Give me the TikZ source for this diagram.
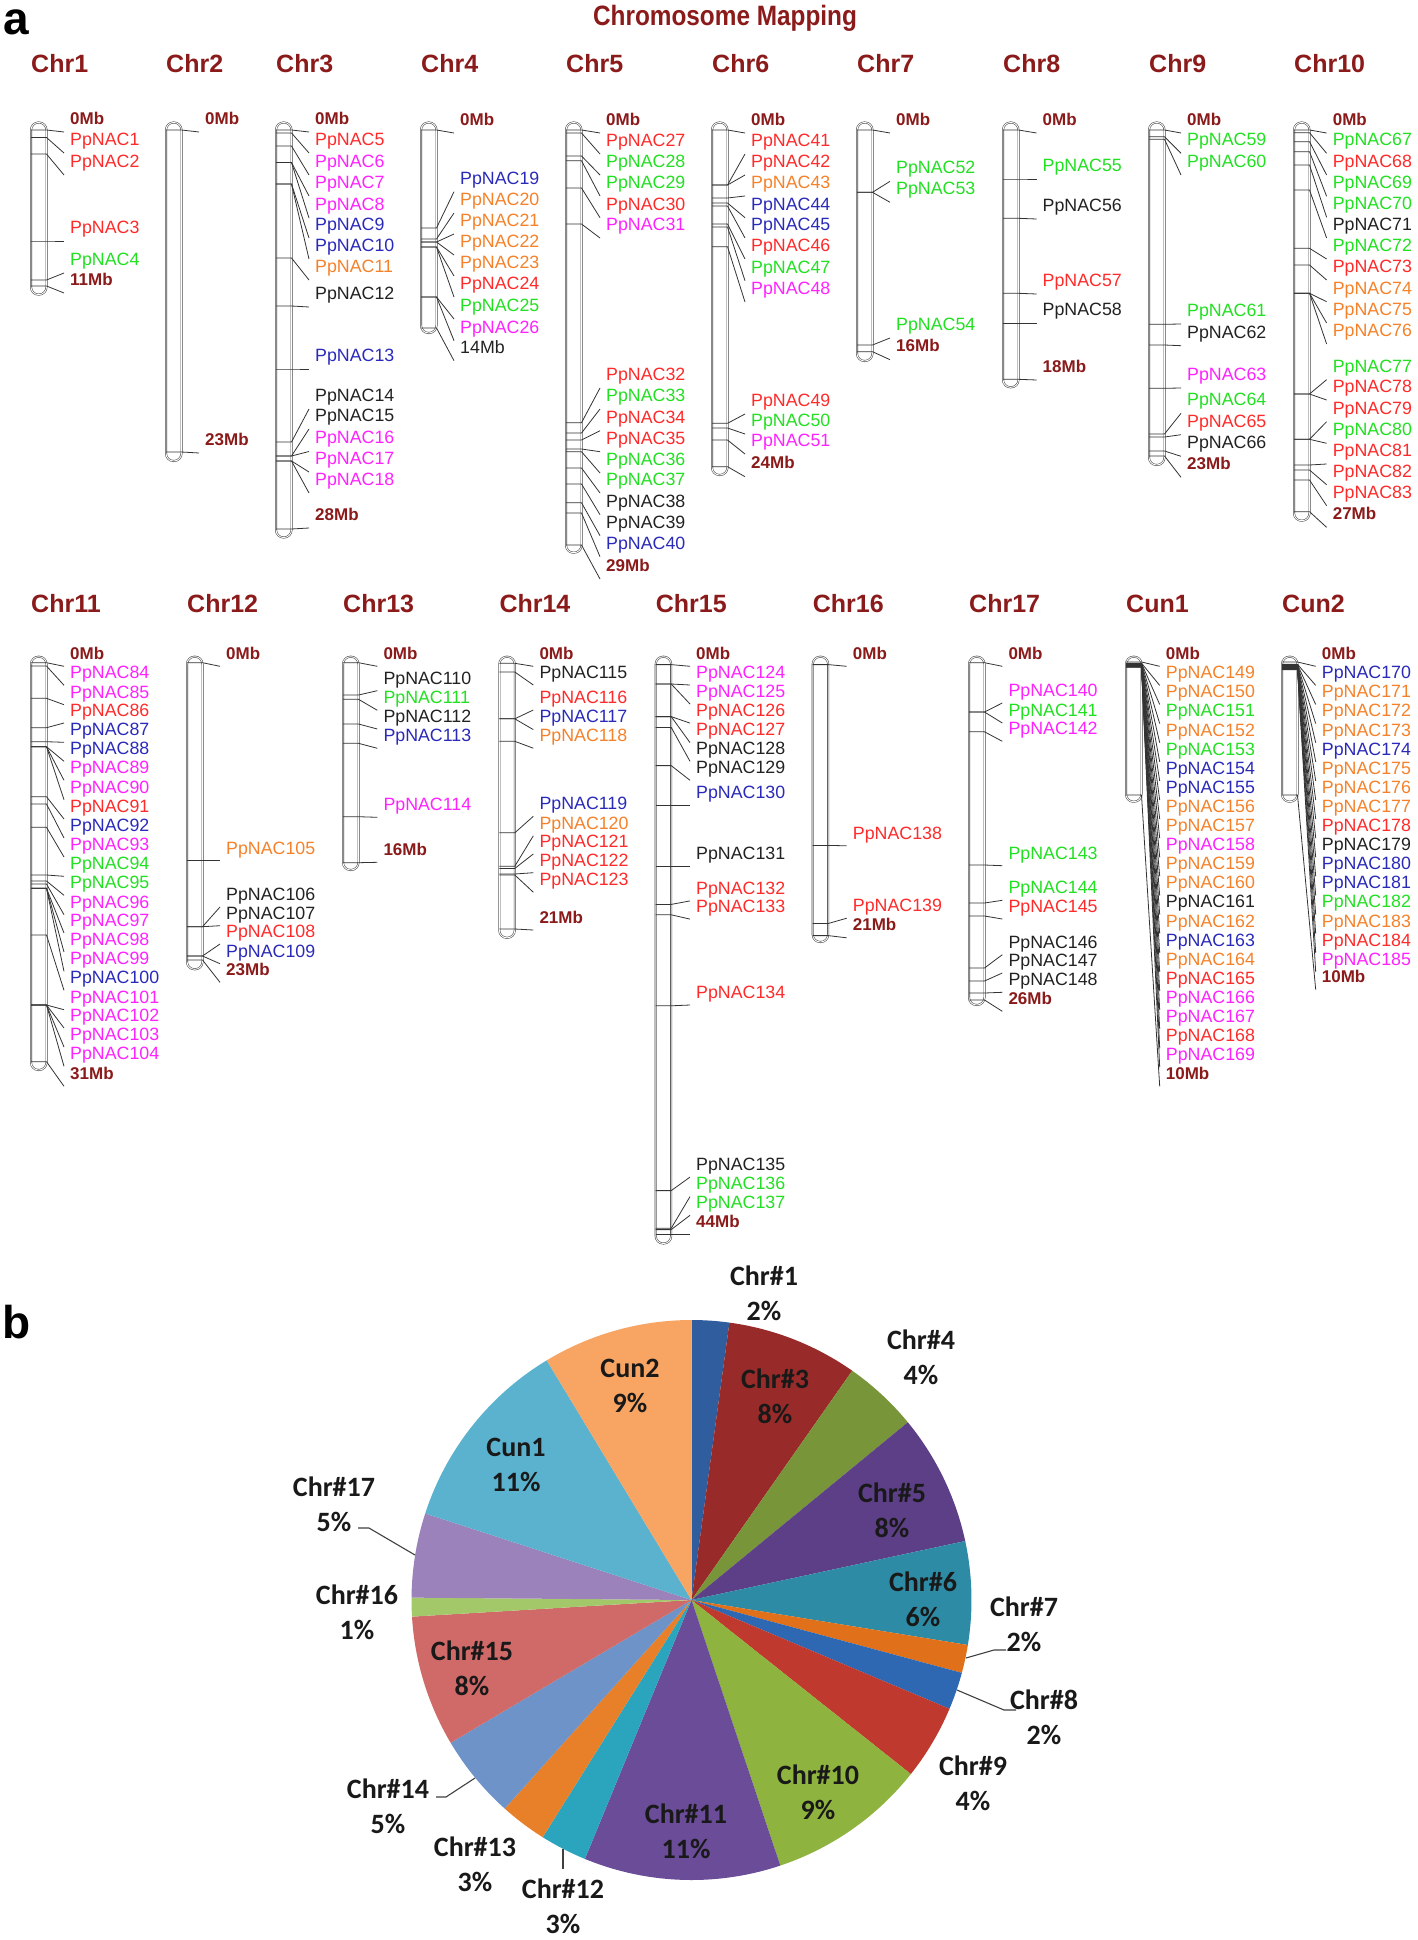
\documentclass[tikz,border=0pt]{standalone}
\usepackage{fontspec}
\setmainfont{Liberation Sans}
\newfontfamily\calib{Carlito}
\usetikzlibrary{calc}
\definecolor{darkred}{HTML}{8B1A1A}
\definecolor{nred}{HTML}{FF2A2A}
\definecolor{nmag}{HTML}{FF22FF}
\definecolor{nblue}{HTML}{2A2ABA}
\definecolor{norg}{HTML}{F5822A}
\definecolor{ngrn}{HTML}{22E022}
\definecolor{nblk}{HTML}{222222}
\definecolor{barline}{HTML}{4A4A4A}
% pie slice colours
\definecolor{pc1}{HTML}{2F5D9E}
\definecolor{pc3}{HTML}{982B29}
\definecolor{pc4}{HTML}{78953A}
\definecolor{pc5}{HTML}{5C3F87}
\definecolor{pc6}{HTML}{2D8BA5}
\definecolor{pc7}{HTML}{E0701A}
\definecolor{pc8}{HTML}{2E68B2}
\definecolor{pc9}{HTML}{C0392F}
\definecolor{pc10}{HTML}{8FB33F}
\definecolor{pc11}{HTML}{6A4C99}
\definecolor{pc12}{HTML}{2BA5BE}
\definecolor{pc13}{HTML}{E8802A}
\definecolor{pc14}{HTML}{6E93C8}
\definecolor{pc15}{HTML}{D06A68}
\definecolor{pc16}{HTML}{A3C86A}
\definecolor{pc17}{HTML}{9C82BA}
\definecolor{pcu1}{HTML}{5AB2CF}
\definecolor{pcu2}{HTML}{F8A462}
\tikzset{
  chrbar/.style={draw=barline, double=white, double distance=0.9pt,
                 line width=0.55pt, rounded corners=7.5pt},
  tick/.style={draw=black!80, line width=0.8pt},
  gene/.style={anchor=west, inner sep=0pt, font=\fontsize{17.8}{20}\selectfont,
               text height=12.7pt, text depth=0pt},
  mb/.style={gene, font=\bfseries\fontsize{17}{20}\selectfont, text=darkred,
             text height=12.2pt},
  chrname/.style={anchor=west, inner sep=0pt, font=\bfseries\fontsize{25}{28}\selectfont,
                  text=darkred, text height=18pt, text depth=0pt},
  title/.style={inner sep=0pt, font=\bfseries\fontsize{28}{30}\selectfont, text=darkred},
  panel/.style={inner sep=0pt, font=\bfseries\fontsize{46}{50}\selectfont},
  pielbl/.style={inner sep=0pt, align=center, text=black!90,
                 font=\calib\bfseries\fontsize{28}{34.7}\selectfont},
  leader/.style={draw=black!75, line width=1.1pt}
}
\def\bw{15.5}
% bar of one chromosome: id, text, name y, bar x, top, bottom, label x
\newcommand{\chrom}[7]{%
  \def\bl{#4}\def\lx{#7}%
  \node[chrname] (#1) at (#4,#3) {#2};%
  \draw[chrbar] (#4,#5) rectangle (#4+\bw,#6);%
}
% one locus: node name, marker y, label y, style, text
\newcommand{\locus}[5]{%
  \node[#4] (#1) at (\lx,#3) {#5};%
  \draw[tick] (\bl,#2) -- ++(\bw,0) -- ([shift={(-6pt,-\eoff pt)}]#1.west);%
}
\begin{document}
\begin{tikzpicture}[x=1pt, y=-1pt]
  \useasboundingbox (0,0) rectangle (1418,1940);
  \fill[white] (0,0) rectangle (1418,1940);

  \node[panel] (pa) at (16,22) {a};
  \node[title] (title) at (725,18.5) {\scalebox{0.87}[1]{Chromosome Mapping}};

  % first row
  \def\eoff{14}
  \chrom{chr1}{Chr1}{63.6}{31}{122.5}{294.6}{70}
  \locus{chr1a}{130}{118}{mb}{0Mb}
  \foreach \m/\l/\c/\n in {137.5/139/nred/1, 154/161/nred/2, 241/227/nred/3, 280/259/ngrn/4}
    {\locus{g\n}{\m}{\l}{gene, text=\c}{PpNAC\n}}
  \locus{chr1b}{286}{279}{mb}{11Mb}

  \chrom{chr2}{Chr2}{63.6}{166}{122.5}{461}{205}
  \locus{chr2a}{130}{118}{mb}{0Mb}
  \locus{chr2b}{452}{439}{mb}{23Mb}

  \chrom{chr3}{Chr3}{63.6}{276}{122.5}{537.5}{315}
  \locus{chr3a}{130}{118}{mb}{0Mb}
  \foreach \m/\l/\c/\n in {133/139/nred/5, 146/161/nmag/6, 162.5/182/nmag/7, 162.5/204/nmag/8,
      184/224/nblue/9, 184/245/nblue/10, 258/266/norg/11, 306/293/nblk/12, 369/355/nblue/13,
      442/395/nblk/14, 456/415/nblk/15, 456/437.5/nmag/16, 461/458/nmag/17, 461/479/nmag/18}
    {\locus{g\n}{\m}{\l}{gene, text=\c}{PpNAC\n}}
  \locus{chr3b}{529}{514}{mb}{28Mb}

  \chrom{chr4}{Chr4}{63.6}{421}{122.5}{333}{460}
  \locus{chr4a}{130}{119}{mb}{0Mb}
  \foreach \m/\l/\c/\n in {228/177.7/nblue/19, 239/199/norg/20, 242/220/norg/21, 242/241/norg/22,
      247/262/norg/23, 247/283/nred/24, 297/305/ngrn/25, 297/326.7/nmag/26}
    {\locus{g\n}{\m}{\l}{gene, text=\c}{PpNAC\n}}
  \locus{chr4b}{328}{346.7}{gene, text=nblk}{14Mb}

  \chrom{chr5}{Chr5}{63.6}{566}{122.5}{552.7}{606}
  \locus{chr5a}{130}{119}{mb}{0Mb}
  \foreach \m/\l/\c/\n in {133/140/nred/27, 156/161/ngrn/28, 160.7/182/ngrn/29, 188/203.7/nred/30,
      224/224/nmag/31, 422.7/374/nred/32, 433/395/ngrn/33, 440/416.7/nred/34, 449/437.7/nred/35,
      451.7/459/ngrn/36, 468/479/ngrn/37, 484/500.7/nblk/38, 502.7/521.7/nblk/39, 513/542.7/nblue/40}
    {\locus{g\n}{\m}{\l}{gene, text=\c}{PpNAC\n}}
  \locus{chr5b}{545}{565}{mb}{29Mb}

  \chrom{chr6}{Chr6}{63.6}{712}{122.5}{475}{751}
  \locus{chr6a}{130}{119}{mb}{0Mb}
  \foreach \m/\l/\c/\n in {185/140/nred/41, 185/161/nred/42, 198/182/norg/43, 203/203.7/nblue/44,
      206/224/nblue/45, 224/245/nred/46, 227/266.7/ngrn/47, 246.7/288/nmag/48,
      423.3/400/nred/49, 428/420/ngrn/50, 440/440/nmag/51}
    {\locus{g\n}{\m}{\l}{gene, text=\c}{PpNAC\n}}
  \locus{chr6b}{466.7}{462.7}{mb}{24Mb}

  \chrom{chr7}{Chr7}{63.6}{857}{122.5}{361}{896}
  \locus{chr7a}{130}{119}{mb}{0Mb}
  \foreach \m/\l/\c/\n in {192.3/167.3/ngrn/52, 192.3/188.3/ngrn/53, 345/324/ngrn/54}
    {\locus{g\n}{\m}{\l}{gene, text=\c}{PpNAC\n}}
  \locus{chr7b}{351.7}{345.7}{mb}{16Mb}

  \chrom{chr8}{Chr8}{63.6}{1003}{122.5}{387.3}{1042.5}
  \locus{chr8a}{130}{119}{mb}{0Mb}
  \foreach \m/\l/\c/\n in {179/165/ngrn/55, 218.3/205/nblk/56, 293.3/280/nred/57, 323.3/309.3/nblk/58}
    {\locus{g\n}{\m}{\l}{gene, text=\c}{PpNAC\n}}
  \locus{chr8b}{379.3}{366}{mb}{18Mb}

  \chrom{chr9}{Chr9}{63.6}{1149}{122.5}{465}{1187}
  \locus{chr9a}{130}{119}{mb}{0Mb}
  \foreach \m/\l/\c/\n in {136.7/139.3/ngrn/59, 139.3/161/ngrn/60, 324.3/310/ngrn/61,
      345/331.7/nblk/62, 388.3/374/nmag/63, 434/399.3/ngrn/64, 437/420.7/nred/65, 451/442.3/nblk/66}
    {\locus{g\n}{\m}{\l}{gene, text=\c}{PpNAC\n}}
  \locus{chr9b}{456}{463.3}{mb}{23Mb}

  \chrom{chr10}{Chr10}{63.6}{1294}{122.5}{520.7}{1332.6}
  \locus{chr10a}{130}{119}{mb}{0Mb}
  \foreach \m/\l/\c/\n in {132.7/139.3/ngrn/67, 141.7/161/nred/68, 151.7/182.3/ngrn/69,
      165/203.3/ngrn/70, 190/224/nblk/71, 248.3/245/ngrn/72, 265/266/nred/73, 293.3/287.7/norg/74,
      293.3/309/norg/75, 293.3/330/norg/76, 394/365.7/ngrn/77, 394/386/nred/78, 439.3/407.7/nred/79,
      439.3/429.3/ngrn/80, 465/450/nred/81, 470/470.7/nred/82, 480/491.7/nred/83}
    {\locus{g\n}{\m}{\l}{gene, text=\c}{PpNAC\n}}
  \locus{chr10b}{511.7}{513.3}{mb}{27Mb}

  % second row
  \def\eoff{13}
  \chrom{chr11}{Chr11}{603.3}{31}{656.7}{1070}{70}
  \locus{chr11a}{662.7}{653.3}{mb}{0Mb}
  \foreach \m/\l/\c/\n in {666/672.3/nmag/84, 698.3/691.7/nmag/85, 727.7/710/nred/86,
      741.7/729.3/nblue/87, 746.7/748.3/nblue/88, 746.7/767.3/nmag/89, 746.7/786.7/nmag/90,
      796.7/806/nred/91, 804/825/nblue/92, 827.3/844/nmag/93, 875/863.3/ngrn/94, 881/882.3/ngrn/95,
      884/901.7/nmag/96, 888.3/920/nmag/97, 888.3/939/nmag/98, 888.3/958.3/nmag/99,
      935/977.3/nblue/100, 1005/996.7/nmag/101, 1005/1015/nmag/102, 1005/1034/nmag/103,
      1005/1053.3/nmag/104}
    {\locus{g\n}{\m}{\l}{gene, text=\c}{PpNAC\n}}
  \locus{chr11b}{1061.7}{1073.3}{mb}{31Mb}

  \chrom{chr12}{Chr12}{603.3}{187}{656.7}{969.3}{226}
  \locus{chr12a}{662.7}{653.3}{mb}{0Mb}
  \foreach \m/\l/\c/\n in {860.7/847.7/norg/105, 926.7/894/nblk/106, 926.7/912.7/nblk/107,
      956/931/nred/108, 956/950.7/nblue/109}
    {\locus{g\n}{\m}{\l}{gene, text=\c}{PpNAC\n}}
  \locus{chr12b}{960}{969.3}{mb}{23Mb}

  \chrom{chr13}{Chr13}{603.3}{343}{656.7}{870}{383.3}
  \locus{chr13a}{662.7}{653.3}{mb}{0Mb}
  \foreach \m/\l/\c/\n in {695/677.7/nblk/110, 699.3/697.3/ngrn/111, 724/716/nblk/112,
      743.3/735.3/nblue/113, 816.7/804.3/nmag/114}
    {\locus{g\n}{\m}{\l}{gene, text=\c}{PpNAC\n}}
  \locus{chr13b}{862.7}{849.3}{mb}{16Mb}

  \chrom{chr14}{Chr14}{603.3}{499.3}{656.7}{937.8}{539.3}
  \locus{chr14a}{663.3}{653.3}{mb}{0Mb}
  \foreach \m/\l/\c/\n in {672/672/nblk/115, 718.8/697/nred/116, 718.8/716.6/nblue/117,
      741.3/735.2/norg/118, 832.8/803.3/nblue/119, 866.2/822.8/norg/120, 868.4/841/nred/121,
      874/859.7/nred/122, 875/879.2/nred/123}
    {\locus{g\n}{\m}{\l}{gene, text=\c}{PpNAC\n}}
  \locus{chr14b}{929}{917}{mb}{21Mb}

  \chrom{chr15}{Chr15}{603.3}{655.7}{656.7}{1243.5}{696}
  \locus{chr15a}{664.6}{653.3}{mb}{0Mb}
  \foreach \m/\l/\c/\n in {684/672/nmag/124, 684/691/nmag/125, 716.6/710.1/nred/126,
      716.6/729.6/nred/127, 727.4/748.3/nblk/128, 765.6/767.3/nblk/129, 805.5/792.5/nblue/130,
      866.2/853.2/nblk/131, 904.4/887.9/nred/132, 914.8/906.1/nred/133, 1005.8/992/nred/134,
      1190.6/1164.1/nblk/135, 1228.3/1183.6/ngrn/136, 1229.6/1202.3/ngrn/137}
    {\locus{g\n}{\m}{\l}{gene, text=\c}{PpNAC\n}}
  \locus{chr15b}{1234.8}{1221.8}{mb}{44Mb}

  \chrom{chr16}{Chr16}{603.3}{812.7}{656.7}{942}{852.7}
  \locus{chr16a}{664.6}{653.3}{mb}{0Mb}
  \foreach \m/\l/\c/\n in {845.4/832.8/nred/138, 923.5/905.2/nred/139}
    {\locus{g\n}{\m}{\l}{gene, text=\c}{PpNAC\n}}
  \locus{chr16b}{935.6}{924.8}{mb}{21Mb}

  \chrom{chr17}{Chr17}{603.3}{969}{656.7}{1005}{1008.3}
  \locus{chr17a}{662.7}{653.3}{mb}{0Mb}
  \foreach \m/\l/\c/\n in {712/690/nmag/140, 712/710/ngrn/141, 731.8/728.3/nmag/142,
      865/852.7/ngrn/143, 903/887.3/ngrn/144, 916/906/nred/145, 968/941.7/nblk/146,
      981/960/nblk/147, 993/979.3/nblk/148}
    {\locus{g\n}{\m}{\l}{gene, text=\c}{PpNAC\n}}
  \locus{chr17b}{1000}{998.3}{mb}{26Mb}

  \chrom{cun1}{Cun1}{603.3}{1126}{656.7}{801.7}{1165.7}
  \locus{cun1a}{662}{653.3}{mb}{0Mb}
  \foreach \n/\c [count=\i] in {149/norg, 150/norg, 151/ngrn, 152/norg, 153/ngrn, 154/nblue,
      155/nblue, 156/norg, 157/norg, 158/nmag, 159/norg, 160/norg, 161/nblk, 162/norg, 163/nblue,
      164/norg, 165/nred, 166/nmag, 167/nmag, 168/nred, 169/nmag}
    {\locus{g\n}{663+0.2*\i}{653.3+19.1*\i}{gene, text=\c}{PpNAC\n}}
  \locus{cun1b}{795}{1073.3}{mb}{10Mb}

  \chrom{cun2}{Cun2}{603.3}{1282}{656.7}{801.7}{1321.7}
  \locus{cun2a}{662}{653.3}{mb}{0Mb}
  \foreach \n/\c [count=\i] in {170/nblue, 171/norg, 172/norg, 173/norg, 174/nblue, 175/norg,
      176/norg, 177/norg, 178/nred, 179/nblk, 180/nblue, 181/nblue, 182/ngrn, 183/norg,
      184/nred, 185/nmag}
    {\locus{g\n}{664+0.35*\i}{653.3+19.1*\i}{gene, text=\c}{PpNAC\n}}
  \locus{cun2b}{795}{976.7}{mb}{10Mb}

  % pie chart
  \node[panel] (pb) at (17,1322) {b};
  \begin{scope}[shift={(691.5,1600)}]
    \foreach \s/\e/\c in {0/4/pc1, 4/18/pc3, 18/26/pc4, 26/40/pc5, 40/51/pc6, 51/54/pc7,
        54/58/pc8, 58/66/pc9, 66/83/pc10, 83/104/pc11, 104/109/pc12, 109/114/pc13,
        114/123/pc14, 123/137/pc15, 137/139/pc16, 139/148/pc17, 148/169/pcu1, 169/185/pcu2}
      {\fill[fill=\c] (0,0) -- ({-90+\s*1.945946}:280)
         arc[start angle={-90+\s*1.945946}, end angle={-90+\e*1.945946}, radius=280] -- cycle;}
  \end{scope}

  \node[pielbl] (l1) at (764,1293) {Chr\#1\\2\%};
  \node[pielbl] (l3) at (775,1396) {Chr\#3\\8\%};
  \node[pielbl] (l4) at (921,1357) {Chr\#4\\4\%};
  \node[pielbl] (l5) at (892,1510) {Chr\#5\\8\%};
  \node[pielbl] (l6) at (923,1599) {Chr\#6\\6\%};
  \node[pielbl] (l7) at (1024,1624) {Chr\#7\\2\%};
  \node[pielbl] (l8) at (1044,1717) {Chr\#8\\2\%};
  \node[pielbl] (l9) at (973,1783) {Chr\#9\\4\%};
  \node[pielbl] (l10) at (818,1792) {Chr\#10\\9\%};
  \node[pielbl] (l11) at (686,1831) {Chr\#11\\11\%};
  \node[pielbl] (l12) at (563,1906) {Chr\#12\\3\%};
  \node[pielbl] (l13) at (475,1864.5) {Chr\#13\\3\%};
  \node[pielbl] (l14) at (388,1806) {Chr\#14\\5\%};
  \node[pielbl] (l15) at (472,1668) {Chr\#15\\8\%};
  \node[pielbl] (l16) at (357,1612) {Chr\#16\\1\%};
  \node[pielbl] (l17) at (334,1504) {Chr\#17\\5\%};
  \node[pielbl] (lu1) at (516,1465) {Cun1\\11\%};
  \node[pielbl] (lu2) at (630,1386) {Cun2\\9\%};

  % leader lines
  \coordinate (k7) at (1006,1650);  \coordinate (e7) at (966,1658);
  \coordinate (k8) at (1016,1710);  \coordinate (e8) at (957,1690);
  \coordinate (k12) at (563,1869);  \coordinate (e12) at (563,1849);
  \coordinate (k14) at (436,1797);  \coordinate (e14) at (475,1778);
  \coordinate (k17) at (358,1528);  \coordinate (e17) at (415,1555);
  \draw[leader] (k7) -- ++(-12,0) -- (e7);
  \draw[leader] (k8) -- ++(-12,0) -- (e8);
  \draw[leader] (k12) -- (e12);
  \draw[leader] (k14) -- ++(10,0) -- (e14);
  \draw[leader] (k17) -- ++(11,0) -- (e17);
\end{tikzpicture}
\end{document}
